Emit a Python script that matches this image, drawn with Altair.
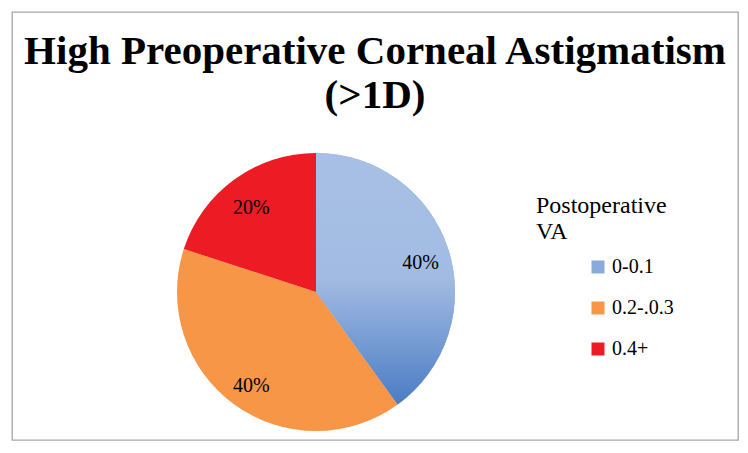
import altair as alt
import pandas as pd

categories = ["0-0.1", "0.2-.0.3", "0.4+"]
shares = [40, 40, 20]
labels = ["40%", "40%", "20%"]
colors = ["#8AAADC", "#F79646", "#ED1C24"]
title_lines = ["High Preoperative Corneal Astigmatism", "(>1D)"]
legend_title = ["Postoperative", "VA"]

df = pd.DataFrame({"cat": categories, "share": shares, "label": labels, "idx": list(range(len(categories)))})

CX, CY, R = 304, 280, 139
SERIF = "Liberation Serif, Times New Roman, serif"

base = alt.Chart(df).encode(
    theta=alt.Theta("share:Q", stack=True),
    order=alt.Order("idx:Q"),
)

pie = base.mark_arc(outerRadius=R, strokeWidth=0).encode(
    x=alt.value(CX), y=alt.value(CY),
    color=alt.Color(
        "cat:N",
        scale=alt.Scale(domain=categories, range=colors),
        legend=alt.Legend(
            title=legend_title, orient="none", legendX=524, legendY=182,
            titleFont=SERIF, titleFontSize=24, titleFontWeight="normal",
            titleColor="black", titleLineHeight=26, titlePadding=13,
            labelFont=SERIF, labelFontSize=20, labelColor="black",
            symbolType="square", symbolSize=169, symbolStrokeWidth=0,
            symbolOffset=52, labelOffset=4, rowPadding=21, padding=0,
        ),
    ),
)

grad = base.mark_arc(
    outerRadius=R, strokeWidth=0,
    fill=alt.Gradient(
        gradient="linear", x1=0, y1=0, x2=0, y2=1,
        stops=[
            alt.GradientStop(offset=0, color="#A8C0E5"),
            alt.GradientStop(offset=0.5, color="#A2BBE2"),
            alt.GradientStop(offset=1, color="#4A7CC4"),
        ],
    ),
).encode(
    x=alt.value(CX), y=alt.value(CY),
    opacity=alt.condition(alt.datum.cat == categories[0], alt.value(1), alt.value(0)),
)

text = base.mark_text(radius=110, dy=5, font=SERIF, fontSize=20, color="black").encode(
    x=alt.value(CX), y=alt.value(CY), text="label:N",
)

chart = alt.layer(pie, grad, text).properties(
    width=726, height=428,
    title=alt.TitleParams(
        text=title_lines, font=SERIF, fontSize=41, fontWeight="bold",
        lineHeight=44, anchor="middle", color="black", dy=105, offset=0,
    ),
    autosize=alt.AutoSizeParams(type="none"),
    padding={"left": 4, "top": 4, "right": 2, "bottom": 5},
).configure_view(stroke="#A6A6A6", strokeWidth=1.3)

chart.save("out.html", embed_options={"renderer": "svg", "actions": False})
